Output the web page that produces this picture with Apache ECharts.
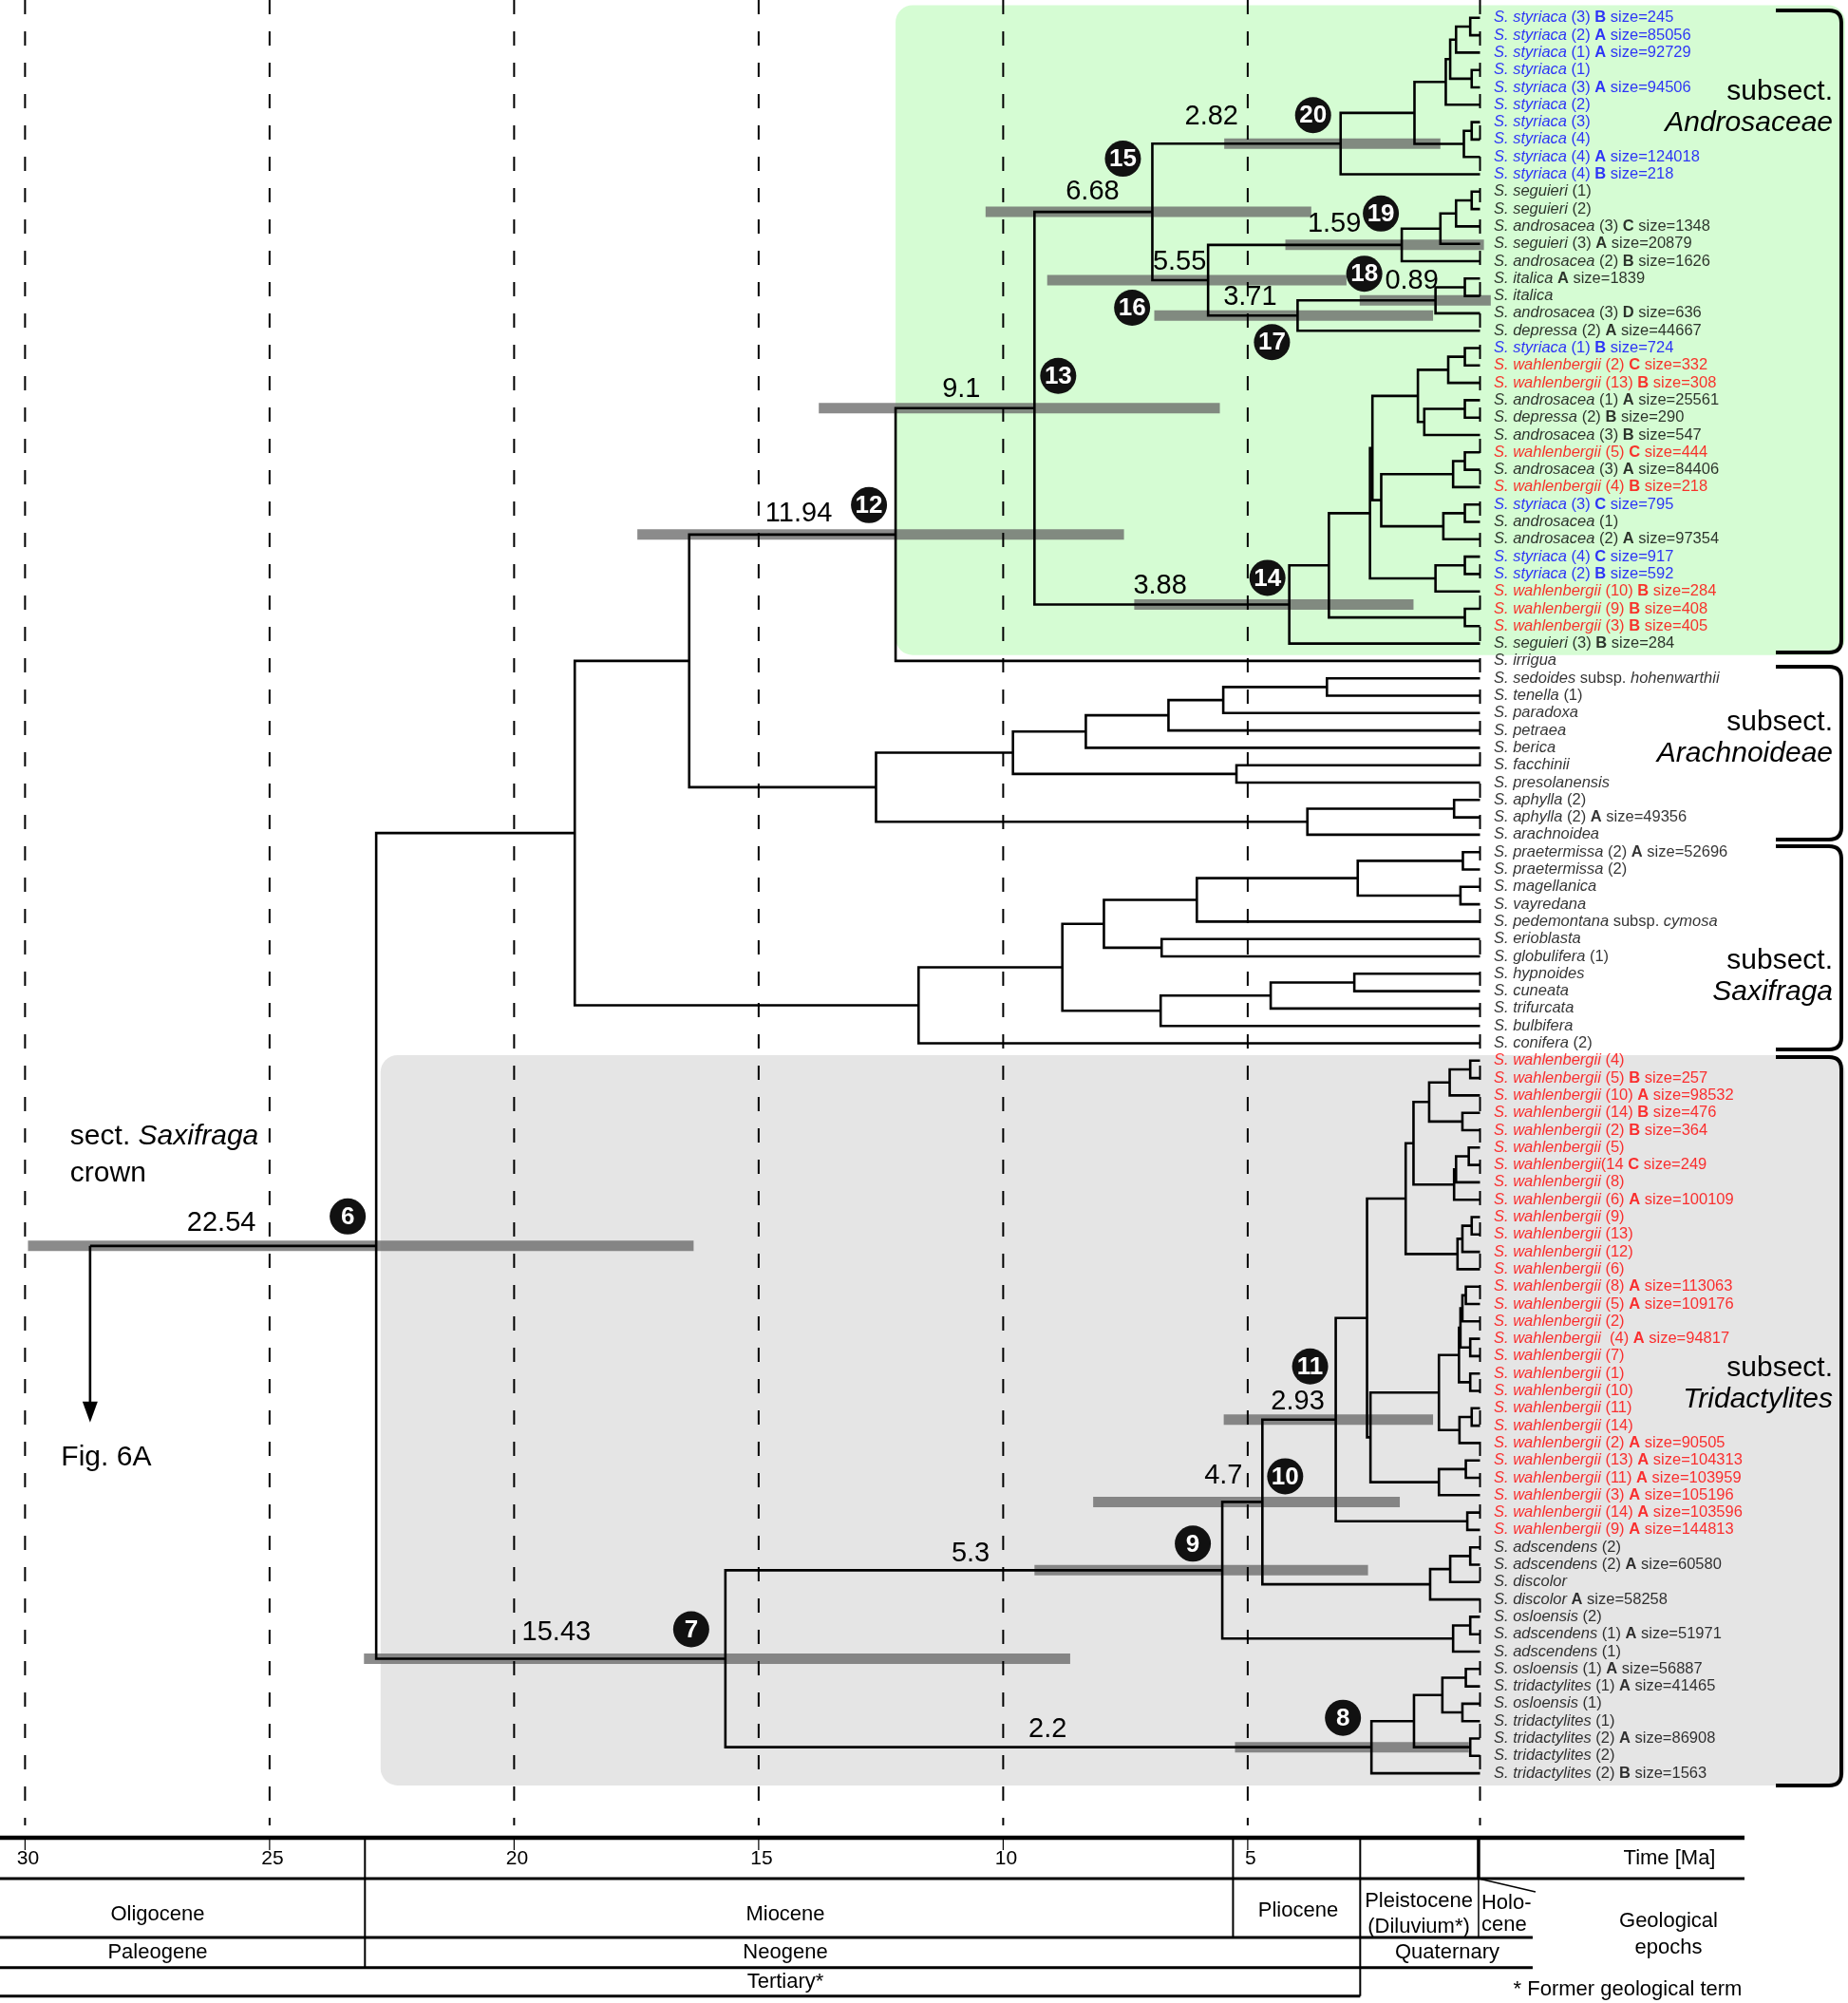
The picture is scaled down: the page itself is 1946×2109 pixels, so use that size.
<!DOCTYPE html>
<html>
<head>
<meta charset="utf-8">
<title>sect. Saxifraga dated tree</title>
<script src="https://cdn.jsdelivr.net/npm/echarts@6/dist/echarts.min.js"></script>
<style>
  html, body { margin: 0; padding: 0; background: #fff; }
  #main { width: 1946px; height: 2109px; }
</style>
</head>
<body>
<div id="main"></div>
<script>
const FONT = '"Liberation Sans", Arial, Helvetica, sans-serif';

// tip labels, top to bottom
const tips = [
  'S. styriaca (3) B size=245', 'S. styriaca (2) A size=85056', 'S. styriaca (1) A size=92729', 'S. styriaca (1)',
  'S. styriaca (3) A size=94506', 'S. styriaca (2)', 'S. styriaca (3)', 'S. styriaca (4)',
  'S. styriaca (4) A size=124018', 'S. styriaca (4) B size=218', 'S. seguieri (1)', 'S. seguieri (2)',
  'S. androsacea (3) C size=1348', 'S. seguieri (3) A size=20879', 'S. androsacea (2) B size=1626', 'S. italica A size=1839',
  'S. italica', 'S. androsacea (3) D size=636', 'S. depressa (2) A size=44667', 'S. styriaca (1) B size=724',
  'S. wahlenbergii (2) C size=332', 'S. wahlenbergii (13) B size=308', 'S. androsacea (1) A size=25561', 'S. depressa (2) B size=290',
  'S. androsacea (3) B size=547', 'S. wahlenbergii (5) C size=444', 'S. androsacea (3) A size=84406', 'S. wahlenbergii (4) B size=218',
  'S. styriaca (3) C size=795', 'S. androsacea (1)', 'S. androsacea (2) A size=97354', 'S. styriaca (4) C size=917',
  'S. styriaca (2) B size=592', 'S. wahlenbergii (10) B size=284', 'S. wahlenbergii (9) B size=408', 'S. wahlenbergii (3) B size=405',
  'S. seguieri (3) B size=284', 'S. irrigua', 'S. sedoides subsp. hohenwarthii', 'S. tenella (1)',
  'S. paradoxa', 'S. petraea', 'S. berica', 'S. facchinii',
  'S. presolanensis', 'S. aphylla (2)', 'S. aphylla (2) A size=49356', 'S. arachnoidea',
  'S. praetermissa (2) A size=52696', 'S. praetermissa (2)', 'S. magellanica', 'S. vayredana',
  'S. pedemontana subsp. cymosa', 'S. erioblasta', 'S. globulifera (1)', 'S. hypnoides',
  'S. cuneata', 'S. trifurcata', 'S. bulbifera', 'S. conifera (2)',
  'S. wahlenbergii (4)', 'S. wahlenbergii (5) B size=257', 'S. wahlenbergii (10) A size=98532', 'S. wahlenbergii (14) B size=476',
  'S. wahlenbergii (2) B size=364', 'S. wahlenbergii (5)', 'S. wahlenbergii(14 C size=249', 'S. wahlenbergii (8)',
  'S. wahlenbergii (6) A size=100109', 'S. wahlenbergii (9)', 'S. wahlenbergii (13)', 'S. wahlenbergii (12)',
  'S. wahlenbergii (6)', 'S. wahlenbergii (8) A size=113063', 'S. wahlenbergii (5) A size=109176', 'S. wahlenbergii (2)',
  'S. wahlenbergii  (4) A size=94817', 'S. wahlenbergii (7)', 'S. wahlenbergii (1)', 'S. wahlenbergii (10)',
  'S. wahlenbergii (11)', 'S. wahlenbergii (14)', 'S. wahlenbergii (2) A size=90505', 'S. wahlenbergii (13) A size=104313',
  'S. wahlenbergii (11) A size=103959', 'S. wahlenbergii (3) A size=105196', 'S. wahlenbergii (14) A size=103596', 'S. wahlenbergii (9) A size=144813',
  'S. adscendens (2)', 'S. adscendens (2) A size=60580', 'S. discolor', 'S. discolor A size=58258',
  'S. osloensis (2)', 'S. adscendens (1) A size=51971', 'S. adscendens (1)', 'S. osloensis (1) A size=56887',
  'S. tridactylites (1) A size=41465', 'S. osloensis (1)', 'S. tridactylites (1)', 'S. tridactylites (2) A size=86908',
  'S. tridactylites (2)', 'S. tridactylites (2) B size=1563'
];

// tree as (child,child)age#name, tips by index, node ages in Ma
const cladeStyriaca = '((((((0,1)0.20,2)0.49,(3,4)0.17)0.61,5)0.70,((6,7)0.17,8)0.33)1.34,9)2.85#n20';
const cladeSeguieri = '((((10,11)0.17,12)0.49,13)0.81,14)1.60#n19';
const cladeItalica = '(((15,16)0.31,17)0.91#n18,18)3.73#n17';
const mixA = '(((19,20)0.31,21)0.65,((22,23)0.31,24)1.14)1.27';
const mixB = '(((25,26)0.31,27)0.55,((28,29)0.31,30)0.75)2.02';
const mixC = '((31,32)0.31,33)0.91';
const cladeMixed = `((((${mixA},${mixB})2.20,${mixC})2.25,(34,35)0.31)3.09,36)3.90#n14`;
const cladeAndro = `(((${cladeStyriaca},(${cladeSeguieri},${cladeItalica})5.56#n16)6.70#n15,${cladeMixed})9.11#n13,37)11.95#n12`;
const cladeArach = '((((((38,39)3.13,40)5.25,41)6.37,42)8.06,(43,44)4.98)9.55,((45,46)0.53,47)3.53)12.35';
const cladeSaxi = '((((((48,49)0.35,(50,51)0.40)2.50,52)5.79,(53,54)6.51)7.69,(((55,56)2.57,57)4.28,58)6.53)8.54,59)11.48';
const wahlA = '((((60,61)0.20,62)0.62,(63,64)0.36)1.04,(((65,66)0.23,67)0.49,68)0.53)1.36';
const wahlB = '(((69,70)0.17,71)0.36,72)0.46';
const wahlC = '((((73,74)0.29,75)0.36,(76,77)0.20)0.40,(78,79)0.20)0.43';
const wahlD = '((80,81)0.17,82)0.42';
const wahlE = '((83,84)0.29,85)0.84';
const cladeWahl = `(((${wahlA},${wahlB})1.52,((${wahlC},${wahlD})0.84,${wahlE})2.24)2.31,(86,87)0.26)2.95#n11`;
const cladeAdsc = '(((88,89)0.20,90)0.61,91)1.02';
const cladeOslo = '((92,93)0.20,94)0.55';
const cladeTrid = '((((95,96)0.29,(97,98)0.36)0.77,(99,100)0.20)1.35,101)2.22#n8';
const cladeTridact = `(((${cladeWahl},${cladeAdsc})4.45#n10,${cladeOslo})5.27#n9,${cladeTrid})15.43#n7`;
const treeString = `(((${cladeAndro},${cladeArach})16.17,${cladeSaxi})18.51,${cladeTridact})22.57#n6`;
const stemAge = 28.42;

// numbered nodes: node, circle number, mean age text
const nodeMarks = [
  ['n6', 6, '22.54'], ['n7', 7, '15.43'], ['n8', 8, '2.2'], ['n9', 9, '5.3'], ['n10', 10, '4.7'],
  ['n11', 11, '2.93'], ['n12', 12, '11.94'], ['n13', 13, '9.1'], ['n14', 14, '3.88'], ['n15', 15, '6.68'],
  ['n16', 16, '5.55'], ['n17', 17, '3.71'], ['n18', 18, '0.89'], ['n19', 19, '1.59'], ['n20', 20, '2.82']
];

// 95% HPD bars
const hpdNodes = ['n6', 'n7', 'n8', 'n9', 'n10', 'n11', 'n12', 'n13', 'n14', 'n15', 'n16', 'n17', 'n18', 'n19', 'n20'];
const hpdOld = [29.69, 22.82, 5.01, 9.11, 7.91, 5.24, 17.23, 13.52, 7.07, 10.11, 8.85, 6.66, 2.46, 3.98, 5.23];
const hpdYoung = [16.08, 8.38, 0.23, 2.29, 1.64, 0.96, 7.28, 5.32, 1.36, 3.45, 2.73, 0.96, -0.22, -0.08, 0.81];

// time bar
const timeTicks = [30, 25, 20, 15, 10, 5];
const epochNames = ['Oligocene', 'Miocene', 'Pliocene', 'Pleistocene\n(Diluvium*)', 'Holo-\ncene'];
const epochBounds = [23.05, 5.3, 2.7, 0.28];
const periodNames = ['Paleogene', 'Neogene', 'Quaternary'];
const periodBounds = [23.05, 2.7];
const eraNames = ['Tertiary*'];
const eraBounds = [2.7];
const scaleOffset = 0.25; // the time bar sits 0.25 Ma right of the tree tips

const subsections = ['Androsaceae', 'Arachnoideae', 'Saxifraga', 'Tridactylites'];

// ---- layout only ----
const bracketRows = [[-0.43, 36.51], [37.33, 47.28], [47.66, 59.36], [59.79, 101.7]];
const subsectRows = [4.27, 40.56, 54.27, 77.72];
const shadeBoxes = [
  { age: 11.95, rows: [-0.73, 36.66], color: '#d5fcd3' },
  { age: 22.48, rows: [59.68, 101.7], color: '#e5e5e5' }
];
// circle dx, dy, age text dx, dy (px from the node)
const markOffset = {
  n6: [-30, -31, -163, -24], n7: [-36, -31, -178, -27], n8: [-30, -31, -341, -19], n9: [-31, -28, -265, -17],
  n10: [24, -27, -41, -27], n11: [-27, -56, -40, -19], n12: [-28, -31, -102, -22], n13: [25, -34, -77, -20],
  n14: [-23, -28, -136, -19], n15: [-31, -56, -63, -21], n16: [-80, 29, -30, -19], n17: [-27, 28, -50, -19],
  n18: [-75, -28, -25, -20], n19: [-22, -33, -71, -22], n20: [-29, -30, -136, -28]
};

// ---- parse tree ----
function parseTree(str) {
  const s = str.replace(/\s+/g, '');
  let i = 0;
  const internals = [];
  const byName = {};
  function read() {
    if (s[i] === '(') {
      i++;
      const kids = [read()];
      while (s[i] === ',') { i++; kids.push(read()); }
      i++;
      const num = /^-?[0-9.]+/.exec(s.slice(i))[0];
      i += num.length;
      let name = null;
      if (s[i] === '#') {
        const nm = /^#\w+/.exec(s.slice(i))[0];
        name = nm.slice(1);
        i += nm.length;
      }
      const node = { kids, age: +num, name, y: (kids[0].y + kids[kids.length - 1].y) / 2 };
      internals.push(node);
      if (name) byName[name] = node;
      return node;
    }
    const num = /^\d+/.exec(s.slice(i))[0];
    i += num.length;
    return { tip: +num, age: 0, y: +num };
  }
  const root = read();
  return { root, internals, byName };
}
const tree = parseTree(treeString);
const byName = tree.byName;

// ---- tip label rich text ----
function tipRich(s) {
  const c = /styriaca/.test(s) ? 'B' : /wahlenbergii/.test(s) ? 'R' : 'K';
  const m = /^(S\. [a-z]+)(.*)$/.exec(s);
  const parts = [['i', m[1]]];
  let rest = m[2];
  const sub = / subsp\. ([a-z]+)/.exec(rest);
  if (sub) {
    parts.push(['n', ' subsp. '], ['i', sub[1]]);
    rest = rest.slice(sub.index + sub[0].length);
  }
  rest.split(/( [A-D] )/).forEach(seg => {
    if (/^ [A-D] $/.test(seg)) parts.push(['n', ' '], ['b', seg.trim()], ['n', ' ']);
    else if (seg) parts.push(['n', seg]);
  });
  const merged = [];
  parts.forEach(p => {
    const last = merged[merged.length - 1];
    if (last && last[0] === p[0]) last[1] += p[1];
    else merged.push([p[0], p[1]]);
  });
  return merged.map(p => '{' + p[0] + c + '|' + p[1] + '}').join('');
}
const tipStyles = {};
[['K', '#000000'], ['B', '#0000ff'], ['R', '#ff0000']].forEach(([k, col]) => {
  tipStyles['i' + k] = { color: col, fontStyle: 'italic', fontSize: 16.5, fontFamily: FONT };
  tipStyles['n' + k] = { color: col, fontSize: 16.5, fontFamily: FONT };
  tipStyles['b' + k] = { color: col, fontWeight: 'bold', fontSize: 16.5, fontFamily: FONT };
});

function txt(text, x, y, opts) {
  return {
    type: 'text', x, y,
    style: Object.assign({
      text, fill: '#000', fontSize: 22, fontFamily: FONT,
      align: 'center', verticalAlign: 'middle'
    }, opts || {})
  };
}

// ---- time bar table ----
function renderTable(params, api) {
  const X = t => api.coord([t - scaleOffset, 0])[0];
  const T = [1935, 1978, 2040, 2071.7, 2101.7];
  const els = [];
  const line = (x1, y1, x2, y2, w) => els.push({
    type: 'line', shape: { x1, y1, x2, y2 }, style: { stroke: '#000', lineWidth: w }
  });
  const xHolo = X(epochBounds[3]);
  const cellEnd = xHolo + 57;
  line(0, T[0], 1837, T[0], 4.5);
  line(0, T[1], 1837, T[1], 3);
  line(0, T[2], cellEnd, T[2], 3);
  line(0, T[3], cellEnd, T[3], 3);
  line(0, T[4], X(eraBounds[0]), T[4], 3);
  line(X(epochBounds[0]), T[0], X(epochBounds[0]), T[3], 2);
  line(X(epochBounds[1]), T[0], X(epochBounds[1]), T[2], 2);
  line(X(epochBounds[2]), T[0], X(epochBounds[2]), T[4], 2);
  line(xHolo, T[0], xHolo, T[1], 3.5);
  line(xHolo, T[1], xHolo, T[2], 1.5);
  line(xHolo, T[1], xHolo + 60, T[1] + 14, 1.5);
  timeTicks.forEach(t => {
    const x = X(t);
    line(x, T[0], x, T[0] + 13, 1.2);
    els.push(txt(String(t), x + 3, 1957, { fontSize: 21 }));
  });
  els.push(txt('Time [Ma]', 1758, 1957));
  const epochX = [166, 827, 1367, 1494, xHolo + 3];
  epochNames.forEach((n, i) => {
    const holo = i === epochNames.length - 1;
    els.push(txt(n, epochX[i], i === 2 ? 2012 : 2015.5, {
      align: holo ? 'left' : 'center', lineHeight: holo ? 23 : 27
    }));
  });
  const periodX = [166, 827, 1524];
  periodNames.forEach((n, i) => els.push(txt(n, periodX[i], 2056)));
  eraNames.forEach(n => els.push(txt(n, 827, 2087)));
  els.push(txt('Geological\nepochs', 1757, 2037, { lineHeight: 28 }));
  els.push(txt('* Former geological term', 1714, 2095));
  return { type: 'group', children: els };
}

const chart = echarts.init(document.getElementById('main'));

const option = {
  animation: false,
  backgroundColor: '#ffffff',
  grid: { left: 13.5, right: 387.5, top: 0.5, bottom: 187 },
  xAxis: { type: 'value', min: 0, max: 30, inverse: true, show: false },
  yAxis: { type: 'value', min: -1, max: 104, inverse: true, show: false },
  series: [
    {
      // shaded subsection boxes
      type: 'custom', silent: true, z: 1,
      data: shadeBoxes.map(b => [b.age, b.rows[0], b.rows[1]]),
      renderItem(params, api) {
        const p1 = api.coord([api.value(0), api.value(1)]);
        const p2 = api.coord([0, api.value(2)]);
        return {
          type: 'rect',
          shape: { x: p1[0], y: p1[1], width: 1943 - p1[0], height: p2[1] - p1[1], r: 18 },
          style: { fill: shadeBoxes[params.dataIndex].color }
        };
      }
    },
    {
      // 95% HPD bars
      type: 'custom', silent: true, z: 2,
      data: hpdNodes.map((k, i) => [hpdOld[i], hpdYoung[i], byName[k].y]),
      renderItem(params, api) {
        const p1 = api.coord([api.value(0), api.value(2)]);
        const p2 = api.coord([api.value(1), api.value(2)]);
        return {
          type: 'rect',
          shape: { x: p1[0], y: p1[1] - 5.5, width: p2[0] - p1[0], height: 11 },
          style: { fill: 'rgba(100,100,100,0.75)' }
        };
      }
    },
    {
      // dashed time lines
      type: 'custom', silent: true, z: 3,
      data: timeTicks.map(t => [t - scaleOffset]).concat([[0]]),
      renderItem(params, api) {
        const top = api.coord([api.value(0), -1]);
        const bot = api.coord([api.value(0), 104]);
        return {
          type: 'line',
          shape: { x1: top[0], y1: 0, x2: bot[0], y2: bot[1] },
          style: { stroke: '#000', lineWidth: 2, lineDash: [15, 18] }
        };
      }
    },
    {
      // branches
      type: 'custom', silent: true, z: 4,
      data: tree.internals.map(n => [n.age, n.y]),
      renderItem(params, api) {
        const n = tree.internals[params.dataIndex];
        const a = n.kids[0], b = n.kids[n.kids.length - 1];
        const pts = [
          api.coord([a.age, a.y]), api.coord([n.age, a.y]),
          api.coord([n.age, b.y]), api.coord([b.age, b.y])
        ];
        return {
          type: 'polyline',
          shape: { points: pts },
          style: { stroke: '#000', lineWidth: 2.6, fill: 'none', lineJoin: 'miter' }
        };
      }
    },
    {
      // stem of sect. Saxifraga crown and pointer to Fig. 6A
      type: 'custom', silent: true, z: 4,
      data: [[stemAge, tree.root.y]],
      renderItem(params, api) {
        const p0 = api.coord([api.value(0), api.value(1)]);
        const p1 = api.coord([tree.root.age, api.value(1)]);
        const x = p0[0], y = p0[1], yEnd = y + 186;
        return {
          type: 'group',
          children: [
            { type: 'line', shape: { x1: x, y1: y, x2: p1[0], y2: y }, style: { stroke: '#000', lineWidth: 2.6 } },
            { type: 'line', shape: { x1: x, y1: y, x2: x, y2: yEnd - 18 }, style: { stroke: '#000', lineWidth: 2.6 } },
            { type: 'polygon', shape: { points: [[x - 8, yEnd - 22], [x + 8, yEnd - 22], [x, yEnd]] }, style: { fill: '#000' } },
            {
              type: 'text', x: x - 21, y: y - 115,
              style: {
                text: '{n|sect. }{i|Saxifraga}', align: 'left', verticalAlign: 'middle',
                rich: {
                  n: { fontSize: 30, fontFamily: FONT, fill: '#000' },
                  i: { fontSize: 30, fontFamily: FONT, fontStyle: 'italic', fill: '#000' }
                }
              }
            },
            txt('crown', x - 21, y - 76, { align: 'left', fontSize: 30 }),
            txt('Fig. 6A', x + 17, yEnd + 37, { fontSize: 30 })
          ]
        };
      }
    },
    {
      // brackets and subsection names
      type: 'custom', silent: true, z: 4,
      data: bracketRows,
      renderItem(params, api) {
        const y1 = api.coord([0, api.value(0)])[1];
        const y2 = api.coord([0, api.value(1)])[1];
        const xL = 1870, xR = 1939, r = 13;
        const d = `M${xL} ${y1} L${xR - r} ${y1} Q${xR} ${y1} ${xR} ${y1 + r} L${xR} ${y2 - r} Q${xR} ${y2} ${xR - r} ${y2} L${xL} ${y2}`;
        const ly = api.coord([0, subsectRows[params.dataIndex]])[1];
        return {
          type: 'group',
          children: [
            { type: 'path', shape: { pathData: d }, style: { stroke: '#000', lineWidth: 4, fill: 'none' } },
            txt('subsect.', 1930, ly, { align: 'right', fontSize: 30 }),
            txt(subsections[params.dataIndex], 1930, ly + 32.5, { align: 'right', fontSize: 30, fontStyle: 'italic' })
          ]
        };
      }
    },
    {
      // numbered node circles and mean ages
      type: 'custom', silent: true, z: 6,
      data: nodeMarks.map(m => [byName[m[0]].age, byName[m[0]].y]),
      renderItem(params, api) {
        const m = nodeMarks[params.dataIndex];
        const o = markOffset[m[0]];
        const p = api.coord([api.value(0), api.value(1)]);
        return {
          type: 'group',
          children: [
            { type: 'circle', shape: { cx: p[0] + o[0], cy: p[1] + o[1], r: 19 }, style: { fill: '#111' } },
            txt(String(m[1]), p[0] + o[0], p[1] + o[1] + 1, { fill: '#fff', fontSize: 26, fontWeight: 'bold' }),
            txt(m[2], p[0] + o[2], p[1] + o[3], { fontSize: 29 })
          ]
        };
      }
    },
    {
      // geological time bar
      type: 'custom', silent: true, z: 5,
      data: [[0, 0]],
      renderItem: renderTable
    },
    {
      // tip labels
      type: 'scatter', silent: true, z: 5,
      symbolSize: 1,
      itemStyle: { color: 'rgba(0,0,0,0)' },
      data: tips.map((t, i) => [0, i]),
      label: {
        show: true, position: 'right', distance: 14,
        formatter: p => tipRich(tips[p.dataIndex]),
        rich: tipStyles
      }
    }
  ]
};
chart.setOption(option);
</script>
</body>
</html>
